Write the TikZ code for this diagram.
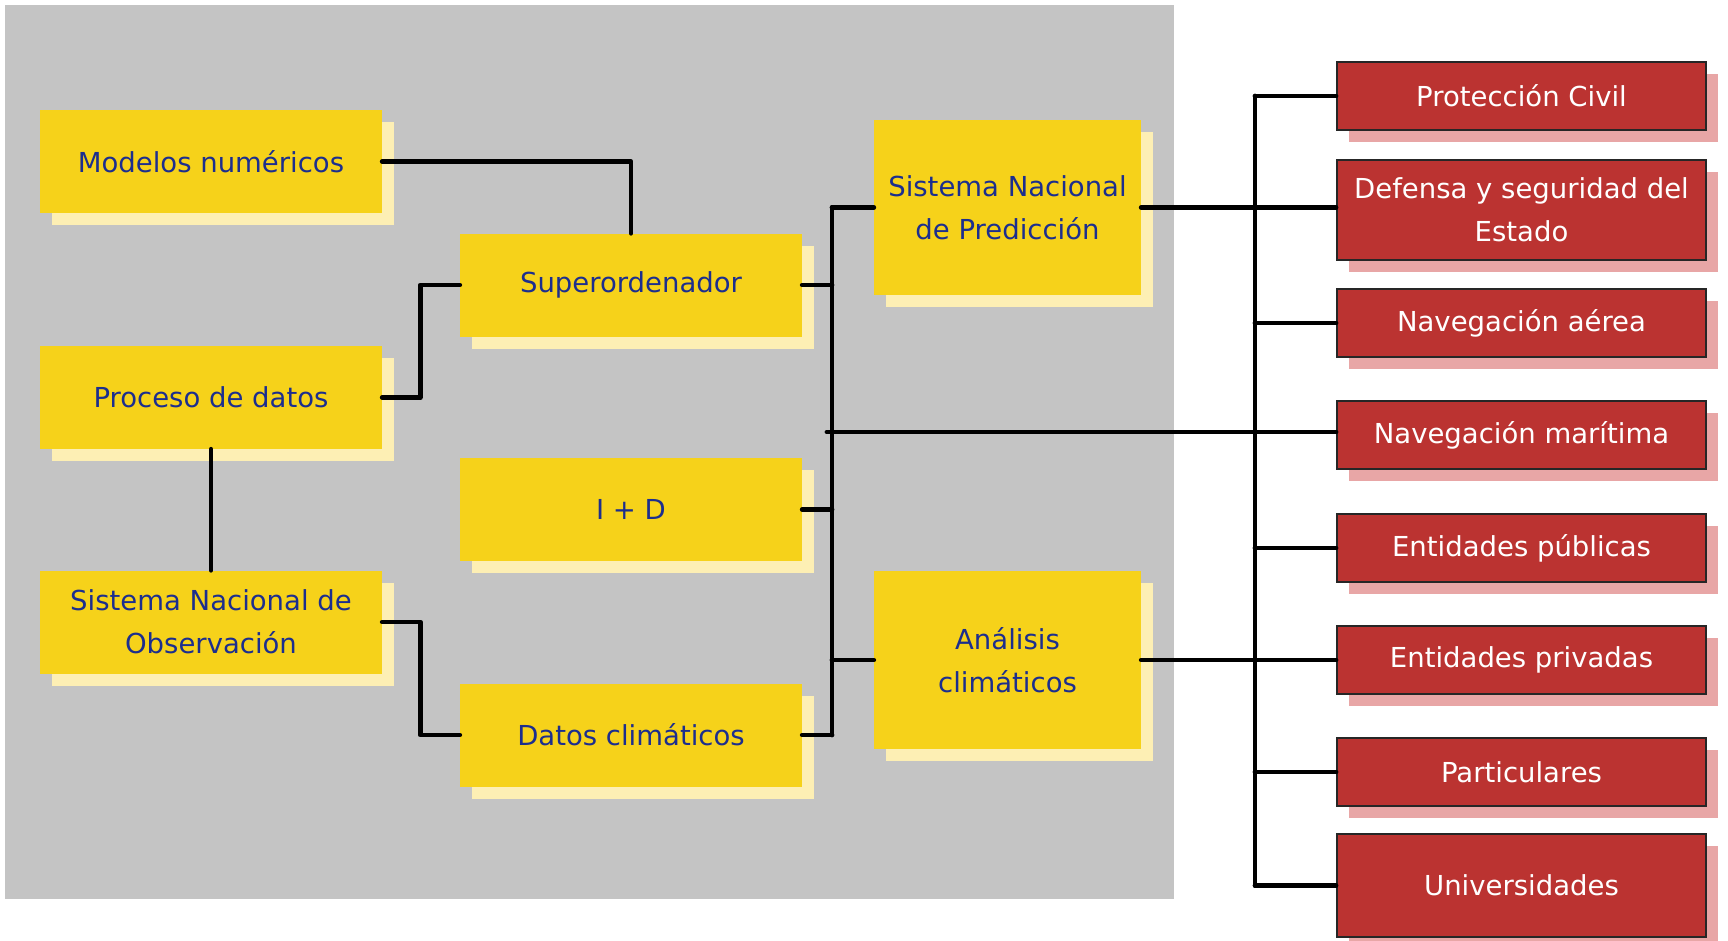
\documentclass[tikz,border=0pt]{standalone}
\usepackage{fontspec}
\setmainfont{DejaVu Sans}
\usetikzlibrary{shadows}
\definecolor{panelgray}{RGB}{196,196,196}
\definecolor{boxyellow}{RGB}{246,210,26}
\definecolor{shadeyellow}{RGB}{253,239,180}
\definecolor{textnavy}{RGB}{28,46,142}
\definecolor{boxred}{RGB}{187,51,49}
\definecolor{shadered}{RGB}{232,166,166}
\tikzset{
  ybox/.style={rectangle, fill=boxyellow, text=textnavy, align=center, inner sep=0pt,
    font=\fontsize{27.5}{43}\selectfont,
    drop shadow={shadow xshift=12pt, shadow yshift=-12pt, fill=shadeyellow, opacity=1}},
  rbox/.style={rectangle, fill=boxred, draw=black!85, line width=2pt, text=white,
    align=center, inner sep=0pt, minimum width=369pt, minimum height=68pt,
    font=\fontsize{27.5}{43}\selectfont,
    drop shadow={shadow xshift=12pt, shadow yshift=-12pt, fill=shadered, opacity=1, draw=none}},
  wire/.style={line width=4.8pt, black, line cap=round, line join=round}
}
\begin{document}
\begin{tikzpicture}[x=1pt,y=-1pt]
\useasboundingbox (0,0) rectangle (1728,940);
% grey panel holding the internal systems
\fill[panelgray] (5,5) rectangle (1174,899);

% left column
\node[ybox, minimum width=342pt, minimum height=103pt] (mod) at (211,161.5) {Modelos numéricos};
\node[ybox, minimum width=342pt, minimum height=103pt] (proc) at (211,397.5) {Proceso de datos};
\node[ybox, minimum width=342pt, minimum height=103pt] (obs) at (211,622) {Sistema Nacional de\\Observación};
% middle column
\node[ybox, minimum width=342pt, minimum height=103pt] (sup) at (631,285) {Superordenador};
\node[ybox, minimum width=342pt, minimum height=103pt] (id) at (631,509.5) {I + D};
\node[ybox, minimum width=342pt, minimum height=103pt] (dat) at (631,735) {Datos climáticos};
% output services
\node[ybox, minimum width=267pt, minimum height=175pt] (pred) at (1007.5,207.5) {Sistema Nacional\\de Predicción};
\node[ybox, minimum width=267pt, minimum height=178pt] (anal) at (1007.5,660) {Análisis\\climáticos};

% users
\node[rbox] (pc) at (1521.5,96) {Protección Civil};
\node[rbox, minimum height=100pt] (def) at (1521.5,210) {Defensa y seguridad del\\Estado};
\node[rbox] (aer) at (1521.5,323) {Navegación aérea};
\node[rbox] (mar) at (1521.5,435) {Navegación marítima};
\node[rbox] (pub) at (1521.5,548) {Entidades públicas};
\node[rbox] (pri) at (1521.5,660) {Entidades privadas};
\node[rbox] (par) at (1521.5,772) {Particulares};
\node[rbox, minimum height=103pt] (uni) at (1521.5,885.5) {Universidades};

% bus coordinates
\coordinate (busL) at (832,0);
\coordinate (busR) at (1255,0);
\coordinate (tap) at (827,432);

% left and middle connections
\draw[wire] (mod.east) -| (sup.north);
\draw[wire] (proc.east) -- ++(38,0) |- (sup.west);
\draw[wire] (proc.south) -- (obs.north);
\draw[wire] (obs.east) -- ++(38,0) |- (dat.west);
\draw[wire] (sup.east) -- (sup.east -| busL);
\draw[wire] (id.east) -- (id.east -| busL);
\draw[wire] (dat.east) -- (dat.east -| busL);
\draw[wire] (pred.west -| busL) -- (dat.east -| busL);
\draw[wire] (pred.west -| busL) -- (pred.west);
\draw[wire] (anal.west -| busL) -- (anal.west);

% right bus to the users
\draw[wire] (pc.west -| busR) -- (uni.west -| busR);
\draw[wire] (tap) -- (tap -| mar.west);
\draw[wire] (pred.east) -- (pred.east -| def.west);
\draw[wire] (anal.east) -- (pri.west);
\foreach \n in {pc,aer,pub,par,uni}
  \draw[wire] (\n.west -| busR) -- (\n.west);
\end{tikzpicture}
\end{document}
